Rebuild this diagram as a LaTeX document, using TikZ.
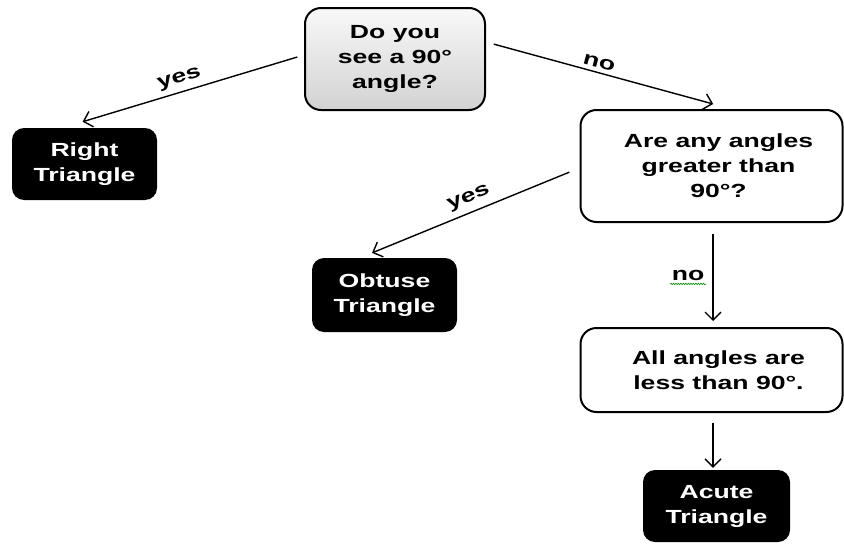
\documentclass[tikz,border=0pt]{standalone}
\usepackage{fontspec}
\setmainfont{Liberation Sans}[FakeStretch=1.4]
\usetikzlibrary{arrows.meta,decorations.pathmorphing}
\begin{document}
\begin{tikzpicture}[x=1pt,y=-1pt,
  txt/.style={font=\fontsize{19}{25}\selectfont\bfseries, align=center, inner sep=0pt},
  qbox/.style={txt, draw=black, line width=2pt, rounded corners=16pt, fill=white},
  endbox/.style={txt, fill=black, text=white, rounded corners=12pt},
  arr/.style={line width=1.4pt, -{Straight Barb[length=8pt,width=16pt,line width=1.4pt]}},
  lab/.style={font=\fontsize{19}{25}\selectfont\bfseries, inner sep=1pt}
]
\useasboundingbox (0,0) rectangle (844,546);

\node[qbox, top color=gray!5, bottom color=gray!35, minimum width=180pt, minimum height=102pt] (q1) at (395,59)
  {Do you\\see a 90°\\angle?};
\node[endbox, minimum width=145pt, minimum height=72pt] (right) at (84.5,164) {Right\\Triangle};
\node[qbox, minimum width=262pt, minimum height=112pt] (q2) at (711.5,166)
  {\hspace*{14pt}Are any angles\\\hspace*{14pt}greater than\\\hspace*{14pt}90°?};
\node[endbox, minimum width=145pt, minimum height=74pt] (obtuse) at (384.5,295) {Obtuse\\Triangle};
\node[qbox, minimum width=262pt, minimum height=84pt] (q3) at (711.5,370)
  {\hspace*{14pt}All angles are\\\hspace*{14pt}less than 90°.};
\node[endbox, minimum width=147pt, minimum height=72pt] (acute) at (716.5,506) {Acute\\Triangle};

\draw[arr, shorten <=7pt, shorten >=21pt] ([yshift=4pt]q1.west) --
  node[lab, sloped, above=4pt, pos=0.5] {yes} ([xshift=-22pt]right.north);
\draw[arr, shorten <=8pt, shorten >=19pt] ([yshift=17pt]q1.east) --
  node[lab, sloped, above=3pt, pos=0.45] {no} ([xshift=20pt]q2.north);
\draw[arr, shorten <=11pt, shorten >=13pt] ([yshift=-2pt]q2.west) --
  node[lab, sloped, above=5pt, pos=0.48] {yes} ([xshift=-24.5pt]obtuse.north);
\draw[arr, shorten <=11pt, shorten >=6pt] ([xshift=1.5pt]q2.south) --
  node[lab, left=7pt] (nolab) {no} ([xshift=1.5pt]q3.north);
\draw[green!55!black, line width=0.6pt, decorate, decoration={snake, amplitude=0.8pt, segment length=2.5pt}]
  ([yshift=-2pt]nolab.south west) -- ([yshift=-2pt]nolab.south east);
\draw[arr, shorten <=10pt, shorten >=2pt] ([xshift=1.5pt]q3.south) -- ([xshift=1.5pt]q3.south |- acute.north);
\end{tikzpicture}
\end{document}
